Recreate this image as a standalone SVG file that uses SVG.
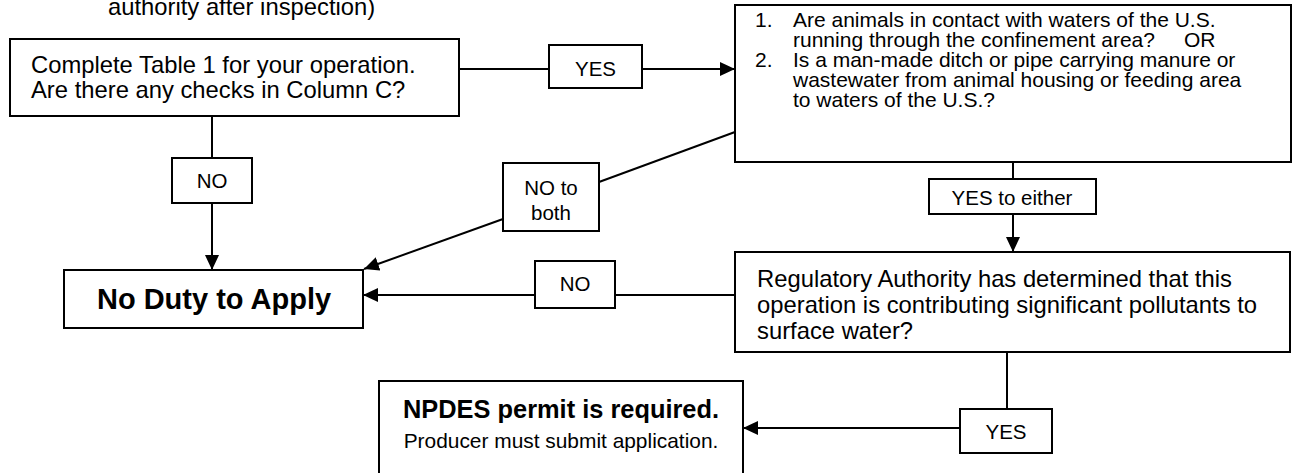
<svg xmlns="http://www.w3.org/2000/svg" width="1293" height="473" viewBox="0 0 1293 473">
<defs>
<style>
text{font-family:"Liberation Sans",Arial,sans-serif;fill:#000}
.box{fill:#fff;stroke:#000;stroke-width:2}
.lbl{fill:#fff;stroke:#000;stroke-width:2}
.c{fill:none;stroke:#000;stroke-width:2}
.t24{font-size:23.8px}
.t20{font-size:21px}
.l21{font-size:20.5px}
.mid{text-anchor:middle}
</style>
<marker id="ah" markerUnits="userSpaceOnUse" markerWidth="15" markerHeight="14" refX="15" refY="7" orient="auto">
<path d="M0,0 L15,7 L0,14 Z" fill="#000"/>
</marker>
</defs>
<rect width="1293" height="473" fill="#fff"/>

<text class="t24" x="108" y="15">authority after inspection)</text>

<g id="connectors">
<path class="c" d="M459,69 H549"/>
<path class="c" d="M642,69 H735" marker-end="url(#ah)"/>
<path class="c" d="M212,116 V158"/>
<path class="c" d="M212,203 V270" marker-end="url(#ah)"/>
<path class="c" d="M735,132 L599,182"/>
<path class="c" d="M503,219 L364,269" marker-end="url(#ah)"/>
<path class="c" d="M1013,162 V179"/>
<path class="c" d="M1013,214 V252" marker-end="url(#ah)"/>
<path class="c" d="M735,295 H615"/>
<path class="c" d="M535,295 H363" marker-end="url(#ah)"/>
<path class="c" d="M1007,352 V409"/>
<path class="c" d="M960,428 H743" marker-end="url(#ah)"/>
<g id="lbl-yes1"><rect class="lbl" x="549" y="45" width="93" height="43"/><text class="l21 mid" x="595.5" y="76">YES</text></g>
<g id="lbl-no1"><rect class="lbl" x="172" y="158" width="80" height="45"/><text class="l21 mid" x="212" y="188">NO</text></g>
<g id="lbl-noboth"><rect class="lbl" x="503" y="163" width="96" height="68"/><text class="l21 mid" x="551" y="195">NO to</text><text class="l21 mid" x="551" y="220">both</text></g>
<g id="lbl-yeseither"><rect class="lbl" x="929" y="179" width="167" height="35"/><text class="l21 mid" x="1012" y="205">YES to either</text></g>
<g id="lbl-no2"><rect class="lbl" x="535" y="261" width="80" height="47"/><text class="l21 mid" x="575" y="291">NO</text></g>
<g id="lbl-yes2"><rect class="lbl" x="960" y="409" width="92" height="44"/><text class="l21 mid" x="1006" y="439">YES</text></g>
</g>

<g id="n1">
<rect class="box" x="10" y="39" width="449" height="77"/>
<text class="t24" x="31" y="73">Complete Table 1 for your operation.</text>
<text class="t24" x="31" y="98">Are there any checks in Column C?</text>
</g>

<g id="n2">
<rect class="box" x="735" y="5" width="556" height="157"/>
<text class="t20" x="755" y="27">1.</text>
<text class="t20" x="793" y="27">Are animals in contact with waters of the U.S.</text>
<text class="t20" x="793" y="47">running through the confinement area?<tspan x="1184">OR</tspan></text>
<text class="t20" x="755" y="67">2.</text>
<text class="t20" x="793" y="67">Is a man-made ditch or pipe carrying manure or</text>
<text class="t20" x="793" y="87">wastewater from animal housing or feeding area</text>
<text class="t20" x="793" y="107">to waters of the U.S.?</text>
</g>

<g id="n3">
<rect class="box" x="64" y="270" width="299" height="58"/>
<text class="mid" x="214" y="309" style="font-size:29px;font-weight:bold">No Duty to Apply</text>
</g>

<g id="n4">
<rect class="box" x="735" y="252" width="555" height="100"/>
<text class="t24" x="757" y="287">Regulatory Authority has determined that this</text>
<text class="t24" x="757" y="313">operation is contributing significant pollutants to</text>
<text class="t24" x="757" y="339">surface water?</text>
</g>

<g id="n5">
<rect class="box" x="379" y="381" width="364" height="100"/>
<text class="mid" x="561" y="418" style="font-size:25.4px;font-weight:bold">NPDES permit is required.</text>
<text class="mid" x="561" y="448" style="font-size:20.9px">Producer must submit application.</text>
</g>
</svg>
